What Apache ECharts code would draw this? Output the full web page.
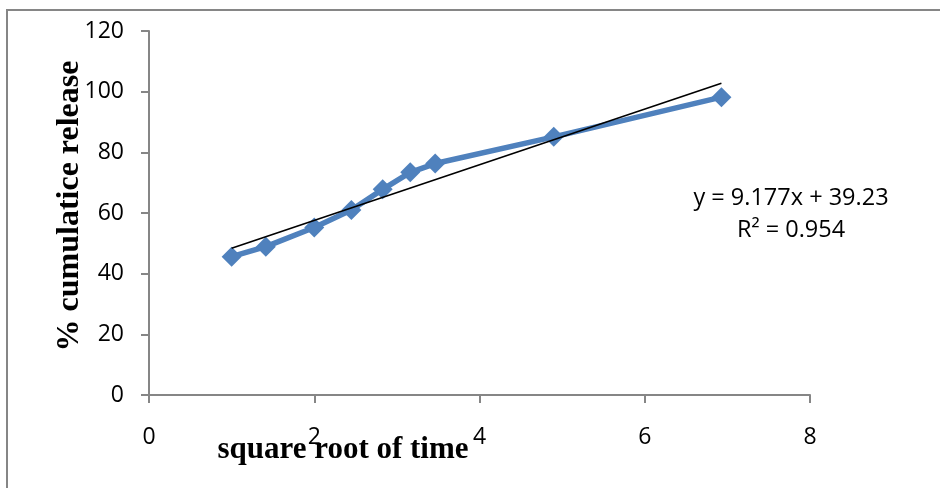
<!DOCTYPE html>
<html>
<head>
<meta charset="utf-8">
<script src="https://cdn.jsdelivr.net/npm/echarts@6/dist/echarts.min.js"></script>
<style>
html,body{margin:0;padding:0;background:#fff;}
#chart{width:940px;height:488px;}
</style>
</head>
<body>
<div id="chart"></div>
<script>
// Data
var sqrtTime = [1, 1.414, 2, 2.449, 2.828, 3.162, 3.464, 4.899, 6.928];
var cumRelease = [45.6, 48.9, 55.2, 61.0, 67.8, 73.4, 76.3, 85.1, 98.2];
var trendX = [1, 6.928];
var trendY = [48.4, 102.8];
var xTicks = [0, 2, 4, 6, 8];
var yTicks = [0, 20, 40, 60, 80, 100, 120];
var equationText = 'y = 9.177x + 39.23';
var r2Text = 'R² = 0.954';

var mainData = sqrtTime.map(function (x, i) { return [x, cumRelease[i]]; });
var trendData = trendX.map(function (x, i) { return [x, trendY[i]]; });

var chart = echarts.init(document.getElementById('chart'));
var axisColor = '#868686';
var tickFont = '"Open Sans", sans-serif';
var serif = '"Liberation Serif", "DejaVu Serif", serif';

chart.setOption({
  animation: false,
  grid: { left: 149, right: 130, top: 31, bottom: 93 },
  xAxis: {
    type: 'value',
    min: xTicks[0], max: xTicks[xTicks.length - 1], interval: 2,
    axisLine: { show: true, onZero: false, lineStyle: { color: axisColor, width: 2 } },
    axisTick: { show: true, inside: false, length: 8, lineStyle: { color: axisColor, width: 2 } },
    axisLabel: { margin: 31, fontSize: 23, color: '#000', fontFamily: tickFont },
    splitLine: { show: false }
  },
  yAxis: {
    type: 'value',
    min: yTicks[0], max: yTicks[yTicks.length - 1], interval: 20,
    axisLine: { show: true, lineStyle: { color: axisColor, width: 2 } },
    axisTick: { show: true, inside: false, length: 8, lineStyle: { color: axisColor, width: 2 } },
    axisLabel: { margin: 25, fontSize: 23, color: '#000', fontFamily: tickFont },
    splitLine: { show: false }
  },
  series: [
    {
      type: 'line',
      data: mainData,
      symbol: 'diamond',
      symbolSize: 20,
      lineStyle: { color: '#4F81BD', width: 5.5 },
      itemStyle: { color: '#4F81BD' },
      z: 2
    },
    {
      type: 'line',
      data: trendData,
      symbol: 'none',
      lineStyle: { color: '#000', width: 1.6 },
      z: 3
    }
  ],
  graphic: [
    {
      type: 'polyline',
      shape: { points: [[7, 488], [7, 10], [940, 10]] },
      style: { stroke: axisColor, lineWidth: 2, fill: null },
      silent: true
    },
    {
      type: 'text',
      x: 343, y: 450,
      style: {
        text: 'square root of time',
        font: 'bold 31px ' + serif,
        fill: '#000',
        textAlign: 'center',
        textVerticalAlign: 'middle'
      },
      z: 10
    },
    {
      type: 'text',
      x: 70, y: 206,
      rotation: Math.PI / 2,
      style: {
        text: '% cumulatice release',
        font: 'bold 32px ' + serif,
        fill: '#000',
        textAlign: 'center',
        textVerticalAlign: 'middle'
      },
      z: 10
    },
    {
      type: 'text',
      x: 791, y: 198,
      style: {
        text: equationText,
        font: '23.5px ' + tickFont,
        fill: '#000',
        textAlign: 'center',
        textVerticalAlign: 'middle'
      }
    },
    {
      type: 'text',
      x: 791, y: 230,
      style: {
        text: r2Text,
        font: '23.5px ' + tickFont,
        fill: '#000',
        textAlign: 'center',
        textVerticalAlign: 'middle'
      }
    }
  ]
});
</script>
</body>
</html>
